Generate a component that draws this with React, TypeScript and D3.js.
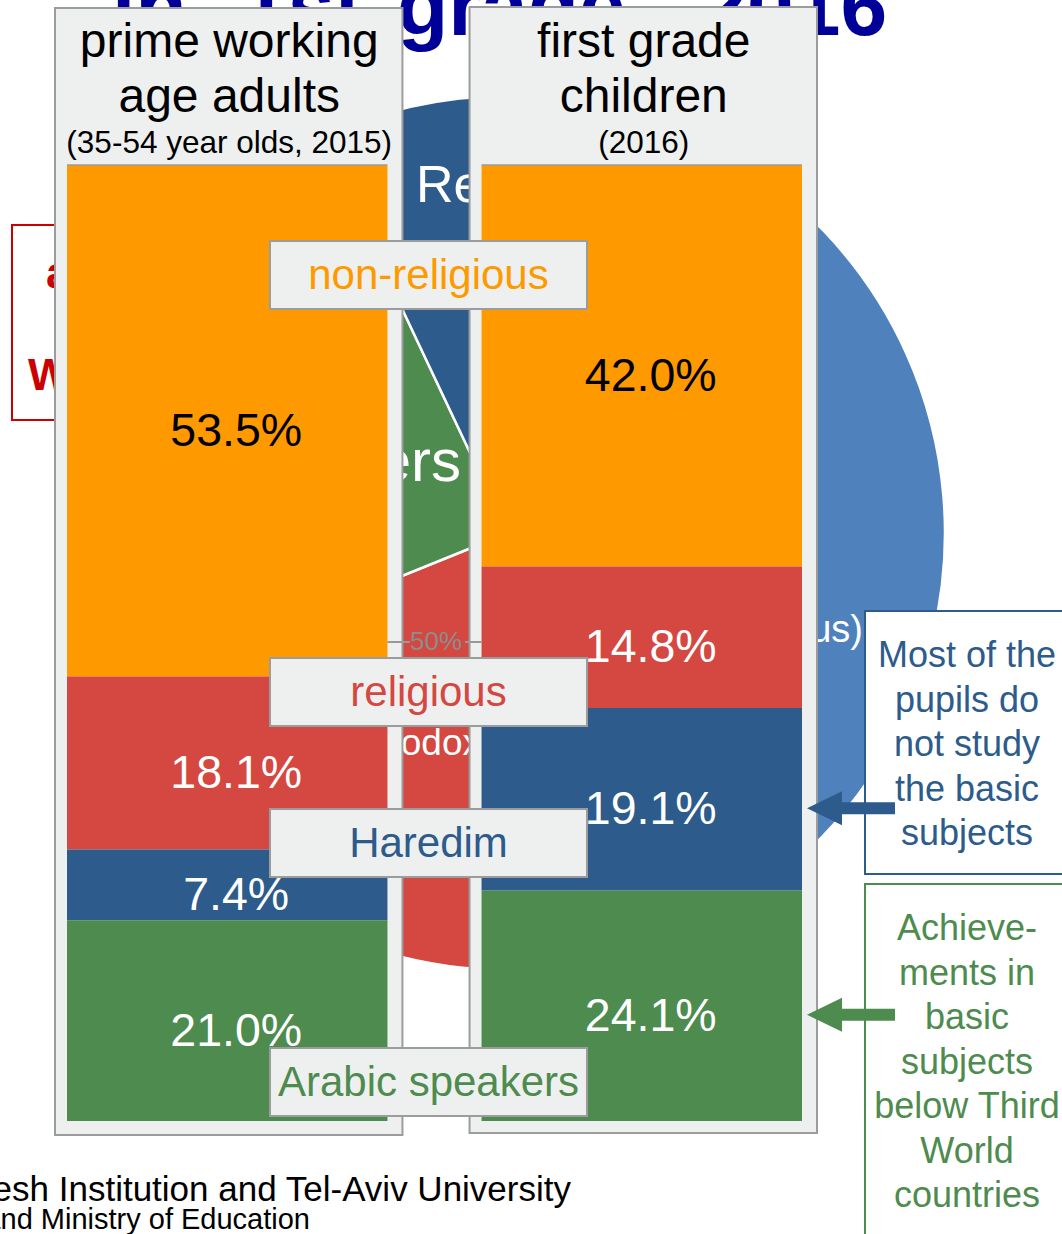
import React from "react";
import * as d3 from "d3";

// ---------- data ----------
const groups = ["adults", "children"];
const groupTitles = [
  ["prime working", "age adults", "(35-54 year olds, 2015)"],
  ["first grade", "children", "(2016)"],
];
const sectors = ["non-religious", "religious", "Haredim", "Arabic speakers"];
const adultsShare = [53.5, 18.1, 7.4, 21.0];
const childrenShare = [42.0, 14.8, 19.1, 24.1];
const sectorColors = ["#FF9900", "#D44841", "#2C5B8C", "#4E8B4E"];
const labelColors = ["#000000", "#FFFFFF", "#FFFFFF", "#FFFFFF"];

// background pie (first grade sectors, partly hidden)
const pieNames = ["Secular (non-religious)", "Ultra-Orthodox", "Arabic speakers", "Religious"];
const pieValues = [42.0, 19.1, 24.1, 14.8];
const pieColors = ["#4F81BD", "#D44841", "#4E8B4E", "#2C5B8C"];

const blueNote = ["Most of the", "pupils do", "not study", "the basic", "subjects"];
const greenNote = ["Achieve-", "ments in", "basic", "subjects", "below Third", "World", "countries"];

const W = 1062;
const H = 1234;
const FONT = "'Liberation Sans', Arial, Helvetica, sans-serif";
const PANEL_FILL = "#EEF0EF";
const PANEL_STROKE = "#9C9C9C";

export default function App() {
  const x = d3.scaleBand<string>().domain(groups).range([67, 802]).paddingInner(0.227);
  const y = d3.scaleLinear().domain([0, 100]).range([165, 1121]);
  const bw = x.bandwidth();

  const stacks = [adultsShare, childrenShare].map((vals) => {
    let acc = 0;
    return vals.map((v, i) => {
      const s = { start: acc, end: acc + v, v, i };
      acc += v;
      return s;
    });
  });

  // pie
  const pieCx = 508;
  const pieCy = 533;
  const pieR = 437;
  const start = (28.0 * Math.PI) / 180;
  const pie = d3.pie<number>().sort(null).startAngle(start).endAngle(start + 2 * Math.PI);
  const arcs = pie(pieValues);
  const arcGen = d3.arc<d3.PieArcDatum<number>>().innerRadius(0).outerRadius(pieR);

  const midBoxX = 270;
  const midBoxW = 317;
  const midBoxH = 68;
  const midBoxY = [241, 658, 809, 1048];

  const rightBar = (x("children") as number) + bw;
  const childStack = stacks[1];
  const arrowY = [
    (y(childStack[2].start) + y(childStack[2].end)) / 2 + 9,
    (y(childStack[3].start) + y(childStack[3].end)) / 2 + 9,
  ];
  const arrowPath = (cy: number) => {
    const p = d3.path();
    const tip = rightBar + 5;
    p.moveTo(tip, cy);
    p.lineTo(tip + 35, cy - 17);
    p.lineTo(tip + 35, cy - 6);
    p.lineTo(tip + 88, cy - 6);
    p.lineTo(tip + 88, cy + 6);
    p.lineTo(tip + 35, cy + 6);
    p.lineTo(tip + 35, cy + 17);
    p.closePath();
    return p.toString();
  };

  return (
    <svg
      width={W}
      height={H}
      style={{ position: "absolute", left: 0, top: 0, background: "#fff" }}
      fontFamily={FONT}
    >
      {/* background title */}
      <g fill="#000099" fontWeight="bold" fontSize={84}>
        <text x={112} y={35}>in</text>
        <text x={241} y={35}>1st</text>
        <text x={397} y={35}>grade - 2016</text>
      </g>

      {/* background red note box */}
      <rect x={12} y={225} width={120} height={195} fill="#fff" stroke="#CC0000" strokeWidth={2} />
      <g fill="#CC0000" fontWeight="bold" fontSize={44}>
        <text x={46} y={288}>about</text>
        <text x={28} y={390}>Why?</text>
      </g>

      {/* background pie */}
      <g transform={`translate(${pieCx},${pieCy})`}>
        {arcs.map((a, i) => (
          <path key={i} d={arcGen(a) as string} fill={pieColors[i]} stroke="#fff" strokeWidth={2.5} />
        ))}
      </g>
      <g fill="#fff">
        <text x={416} y={202} fontSize={52}>{pieNames[3]}</text>
        <text x={461} y={481} fontSize={60} textAnchor="end">{pieNames[2]}</text>
        <text x={481} y={755} fontSize={37} textAnchor="end">{pieNames[1]}</text>
        <text x={863} y={642} fontSize={38} textAnchor="end">{pieNames[0]}</text>
      </g>

      {/* panels */}
      {groups.map((g, gi) => (
        <rect
          key={g}
          x={(x(g) as number) - 12}
          y={gi === 0 ? 8 : 7}
          width={bw + 27}
          height={1127 - (gi === 0 ? 0 : 1)}
          fill={PANEL_FILL}
          stroke={PANEL_STROKE}
          strokeWidth={2}
        />
      ))}

      {/* headers */}
      {groups.map((g, gi) => {
        const cx = (x(g) as number) + bw / 2 + 2;
        return (
          <g key={g} textAnchor="middle" fill="#000">
            <text x={cx} y={57} fontSize={48}>{groupTitles[gi][0]}</text>
            <text x={cx} y={112} fontSize={48}>{groupTitles[gi][1]}</text>
            <text x={cx} y={153} fontSize={31.5}>{groupTitles[gi][2]}</text>
          </g>
        );
      })}

      {/* stacked bars */}
      {groups.map((g, gi) => (
        <g key={g}>
          {stacks[gi].map((s) => (
            <rect
              key={s.i}
              x={x(g) as number}
              y={y(s.start)}
              width={bw}
              height={y(s.end) - y(s.start)}
              fill={sectorColors[s.i]}
            />
          ))}
          <line
            x1={x(g) as number}
            x2={(x(g) as number) + bw}
            y1={y(0)}
            y2={y(0)}
            stroke={PANEL_STROKE}
            strokeWidth={1.5}
          />
          {stacks[gi].map((s) => (
            <text
              key={"t" + s.i}
              x={(x(g) as number) + bw / 2 + 9}
              y={(y(s.start) + y(s.end)) / 2 + 25}
              textAnchor="middle"
              fontSize={46.5}
              fill={labelColors[s.i]}
            >
              {s.v.toFixed(1)}%
            </text>
          ))}
        </g>
      ))}

      {/* 50% reference */}
      <g stroke="#999" strokeWidth={2}>
        <line x1={(x("adults") as number) + bw} x2={410} y1={y(50) - 1} y2={y(50) - 1} />
        <line x1={465} x2={x("children") as number} y1={y(50) - 1} y2={y(50) - 1} />
      </g>
      <text x={436} y={650} textAnchor="middle" fontSize={26} fill="#8C8C8C">50%</text>

      {/* sector label boxes */}
      {sectors.map((s, i) => (
        <g key={s}>
          <rect
            x={midBoxX}
            y={midBoxY[i]}
            width={midBoxW}
            height={midBoxH}
            fill={PANEL_FILL}
            stroke={PANEL_STROKE}
            strokeWidth={2}
          />
          <text
            x={midBoxX + midBoxW / 2}
            y={midBoxY[i] + 48}
            textAnchor="middle"
            fontSize={42}
            fill={sectorColors[i]}
          >
            {s}
          </text>
        </g>
      ))}

      {/* right notes */}
      <rect x={865} y={611} width={220} height={263} fill="#fff" stroke="#2C5B8C" strokeWidth={2} />
      {blueNote.map((t, i) => (
        <text key={t} x={967} y={667 + i * 44.5} textAnchor="middle" fontSize={36} fill="#2C5B8C">
          {t}
        </text>
      ))}
      <path d={arrowPath(arrowY[0])} fill="#2C5B8C" />

      <rect x={865} y={884} width={220} height={400} fill="#fff" stroke="#4E8B4E" strokeWidth={2} />
      {greenNote.map((t, i) => (
        <text key={t} x={967} y={940 + i * 44.5} textAnchor="middle" fontSize={36} fill="#4E8B4E">
          {t}
        </text>
      ))}
      <path d={arrowPath(arrowY[1])} fill="#4E8B4E" />

      {/* footer */}
      <text x={571} y={1201} textAnchor="end" fontSize={35} fill="#000">
        Source: Shoresh Institution and Tel-Aviv University
      </text>
      <text x={310} y={1229} textAnchor="end" fontSize={29} fill="#000">
        CBS and Ministry of Education
      </text>
    </svg>
  );
}
